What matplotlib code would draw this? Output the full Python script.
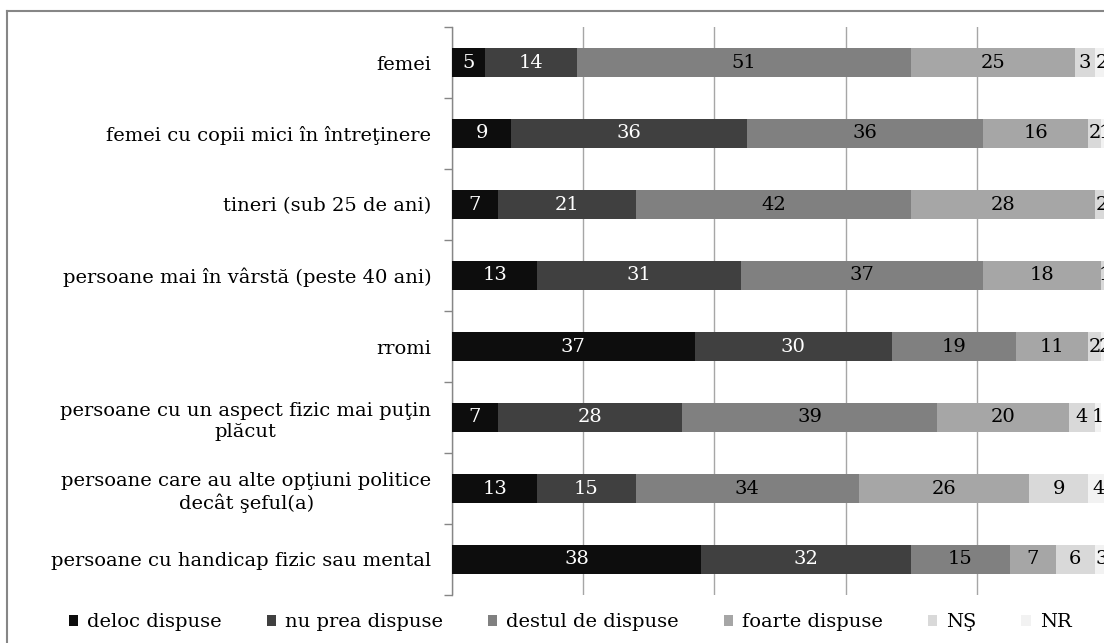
import matplotlib.pyplot as plt
import numpy as np
from matplotlib.lines import Line2D

# Categories (top to bottom) and the six answer shares, in percent
categories = [
    "femei",
    "femei cu copii mici în întreţinere",
    "tineri (sub 25 de ani)",
    "persoane mai în vârstă (peste 40 ani)",
    "rromi",
    "persoane cu un aspect fizic mai puţin\nplăcut",
    "persoane care au alte opţiuni politice\ndecât şeful(a)",
    "persoane cu handicap fizic sau mental",
]
deloc = [5, 9, 7, 13, 37, 7, 13, 38]
nu_prea = [14, 36, 21, 31, 30, 28, 15, 32]
destul = [51, 36, 42, 37, 19, 39, 34, 15]
foarte = [25, 16, 28, 18, 11, 20, 26, 7]
ns = [3, 2, 2, 1, 2, 4, 9, 6]
nr = [2, 1, 0, 0, 2, 1, 4, 3]

series_names = ["deloc dispuse", "nu prea dispuse", "destul de dispuse",
                "foarte dispuse", "NŞ", "NR"]
series = [deloc, nu_prea, destul, foarte, ns, nr]
colors = ["#0d0d0d", "#404040", "#808080", "#a6a6a6", "#d9d9d9", "#f2f2f2"]
text_colors = ["white", "white", "black", "black", "black", "black"]

plt.rcParams['font.family'] = ['DejaVu Serif']
fs = 14

fig = plt.figure(figsize=(11.04, 6.43), dpi=100)
W, H = 1104, 643
ax = fig.add_axes([452 / W, 1 - 595 / H, (1108 - 452) / W, (595 - 27) / H])

y = np.arange(len(categories))
left = np.zeros(len(categories))
handles = []
for vals, name, col, tcol in zip(series, series_names, colors, text_colors):
    vals = np.array(vals, dtype=float)
    bars = ax.barh(y, vals, left=left, height=0.42, color=col, label=name,
                   zorder=3)
    labels = [f"{v:g}" if v > 0 else "" for v in vals]
    ax.bar_label(bars, labels=labels, label_type='center', color=tcol,
                 fontsize=fs, zorder=4)
    handles.append(bars)
    left += vals

ax.set_xlim(0, 100)
ax.set_ylim(len(categories) - 0.5, -0.5)

# vertical gridlines every 20
ax.set_xticks([0, 20, 40, 60, 80, 100])
ax.tick_params(axis='x', length=0, labelbottom=False)
ax.grid(axis='x', color='#a6a6a6', linewidth=1.0, zorder=0)

# category labels at bar centres, tick marks at category boundaries
ax.set_yticks(y)
ax.set_yticklabels(categories, fontsize=fs)
ax.tick_params(axis='y', which='major', length=0, pad=15)
ax.set_yticks(np.arange(len(categories) + 1) - 0.5, minor=True)
ax.tick_params(axis='y', which='minor', length=6, color='#868686', width=1)
for lbl in ax.get_yticklabels():
    lbl.set_multialignment('center')
    lbl.set_linespacing(1.25)

for side in ['top', 'right', 'bottom']:
    ax.spines[side].set_visible(False)
ax.spines['left'].set_color('#868686')
ax.spines['left'].set_linewidth(1.0)

fig.legend(handles=handles, labels=series_names, loc='center',
           bbox_to_anchor=(570 / W, 1 - 622 / H), ncol=6, frameon=False,
           fontsize=fs, handlelength=0.5, handleheight=0.5,
           handletextpad=0.45, columnspacing=2.3)

# chart area border
fig.add_artist(Line2D([7 / W, 7 / W], [0, 1 - 11 / H],
                      transform=fig.transFigure, color='#868686', linewidth=1.5))
fig.add_artist(Line2D([7 / W, 1], [1 - 11 / H, 1 - 11 / H],
                      transform=fig.transFigure, color='#868686', linewidth=1.5))

fig.savefig("out.png", dpi=100)
